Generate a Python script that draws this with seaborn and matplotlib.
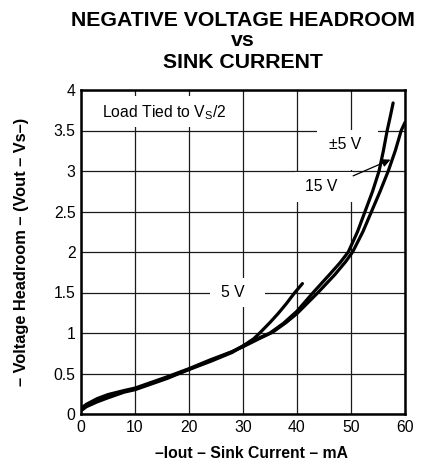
import matplotlib
matplotlib.use("Agg")
import matplotlib.pyplot as plt
import seaborn as sns
import pandas as pd
from matplotlib.patches import Rectangle

# ---- data ----
x_5v = [0, 1, 3, 5, 8, 10, 13, 16, 20, 24, 28, 30, 32, 33.1, 35, 36.5, 38, 39.6, 41]
y_5v = [0.06, 0.10, 0.17, 0.22, 0.28, 0.31, 0.38, 0.45, 0.55, 0.65, 0.76, 0.84, 0.93, 1.0, 1.13, 1.24, 1.36, 1.5, 1.61]

x_pm5v = [0, 1, 3, 5, 8, 10, 13, 16, 20, 24, 28, 30, 33, 35, 37.5, 40, 43, 46, 48, 49.5, 51.2, 52.6, 54, 55.2, 56, 56.7, 57.3, 57.8]
y_pm5v = [0.04, 0.09, 0.15, 0.20, 0.27, 0.30, 0.37, 0.44, 0.55, 0.66, 0.77, 0.84, 0.94, 1.0, 1.12, 1.27, 1.5, 1.72, 1.87, 2.0, 2.25, 2.5, 2.75, 3.0, 3.25, 3.5, 3.68, 3.84]

x_15v = [0, 1, 3, 5, 8, 10, 13, 16, 20, 24, 28, 30, 33, 35.5, 38, 40, 43.9, 47, 49, 50.3, 52.2, 53.8, 55.4, 56.9, 58.2, 59.3, 60]
y_15v = [0.07, 0.12, 0.19, 0.24, 0.29, 0.32, 0.39, 0.46, 0.56, 0.67, 0.77, 0.83, 0.93, 1.01, 1.13, 1.24, 1.5, 1.72, 1.88, 2.0, 2.25, 2.5, 2.75, 3.0, 3.25, 3.5, 3.6]

x_ticks = [0, 10, 20, 30, 40, 50, 60]
y_ticks = [0, 0.5, 1, 1.5, 2, 2.5, 3, 3.5, 4]
y_tick_labels = ["0", "0.5", "1", "1.5", "2", "2.5", "3", "3.5", "4"]

df = pd.concat([
    pd.DataFrame({"I": x_5v, "V": y_5v, "supply": "5 V"}),
    pd.DataFrame({"I": x_pm5v, "V": y_pm5v, "supply": "±5 V"}),
    pd.DataFrame({"I": x_15v, "V": y_15v, "supply": "15 V"}),
])

sns.set_style("white")
plt.rcParams["font.family"] = ["Liberation Sans", "DejaVu Sans"]
plt.rcParams["mathtext.fontset"] = "custom"
plt.rcParams["mathtext.rm"] = "Liberation Sans"
plt.rcParams["text.color"] = "black"
plt.rcParams["axes.labelcolor"] = "black"
plt.rcParams["xtick.color"] = "black"
plt.rcParams["ytick.color"] = "black"

FS = 11.3

fig = plt.figure(figsize=(4.31, 4.66), dpi=100)
ax = fig.add_axes([81 / 431, 1 - 414 / 466, 324 / 431, 324 / 466])

sns.lineplot(data=df, x="I", y="V", hue="supply", units="supply", estimator=None,
             palette={"5 V": "black", "±5 V": "black", "15 V": "black"},
             linewidth=2.3, legend=False, ax=ax, sort=False, zorder=5)

ax.set_xlim(0, 60)
ax.set_ylim(0, 4)
ax.set_xticks(x_ticks)
ax.set_yticks(y_ticks)
ax.set_yticklabels(y_tick_labels)
ax.tick_params(axis="both", length=0, labelsize=FS, pad=4, colors="black", labelcolor="black")
ax.grid(True, color="#1a1a1a", linewidth=0.9)
ax.set_axisbelow(True)
for s in ax.spines.values():
    s.set_color("black")
    s.set_linewidth(1.8)
    s.set_zorder(6)
ax.set_xlabel("")
ax.set_ylabel("")

# white label boxes interrupting the grid
for (x0, y0, w, h) in [(0.7, 3.54, 28.7, 0.39), (43.7, 3.01, 11.3, 0.50),
                       (39.6, 2.62, 10.8, 0.37), (23.9, 1.32, 10.2, 0.36)]:
    ax.add_patch(Rectangle((x0, y0), w, h, facecolor="white", edgecolor="none", zorder=2))

ax.text(3.95, 3.72, r"Load Tied to V$_\mathregular{S}$/2", fontsize=FS, va="center", ha="left",
        color="black", zorder=3)
ax.text(48.9, 3.33, "±5 V", fontsize=FS, va="center", ha="center", color="black", zorder=3)
ax.text(44.4, 2.81, "15 V", fontsize=FS, va="center", ha="center", color="black", zorder=3)
ax.text(28.2, 1.50, "5 V", fontsize=FS, va="center", ha="center", color="black", zorder=3)
ax.annotate("", xy=(57.3, 3.14), xytext=(50.4, 2.94),
            arrowprops=dict(arrowstyle="-|>", color="black", lw=0.9, mutation_scale=12,
                            shrinkA=0, shrinkB=0), zorder=7)

TFS = 15.3
fig.text(243 / 431, 1 - 20 / 466, "NEGATIVE VOLTAGE HEADROOM", fontsize=TFS, fontweight="bold",
         ha="center", va="center", color="black")
fig.text(243 / 431, 1 - 41 / 466, "vs", fontsize=TFS, fontweight="bold", ha="center", va="center",
         color="black")
fig.text(243 / 431, 1 - 62 / 466, "SINK CURRENT", fontsize=TFS, fontweight="bold", ha="center",
         va="center", color="black")

fig.text(252 / 431, 1 - 453 / 466, "–Iout – Sink Current – mA", fontsize=FS, fontweight="bold",
         ha="center", va="center", color="black")
fig.text(22 / 431, 1 - 252 / 466, "– Voltage Headroom – (Vout – Vs–)", fontsize=11.8, fontweight="bold",
         ha="center", va="center", rotation=90, color="black")

fig.savefig("out.png", dpi=100, facecolor="white")
